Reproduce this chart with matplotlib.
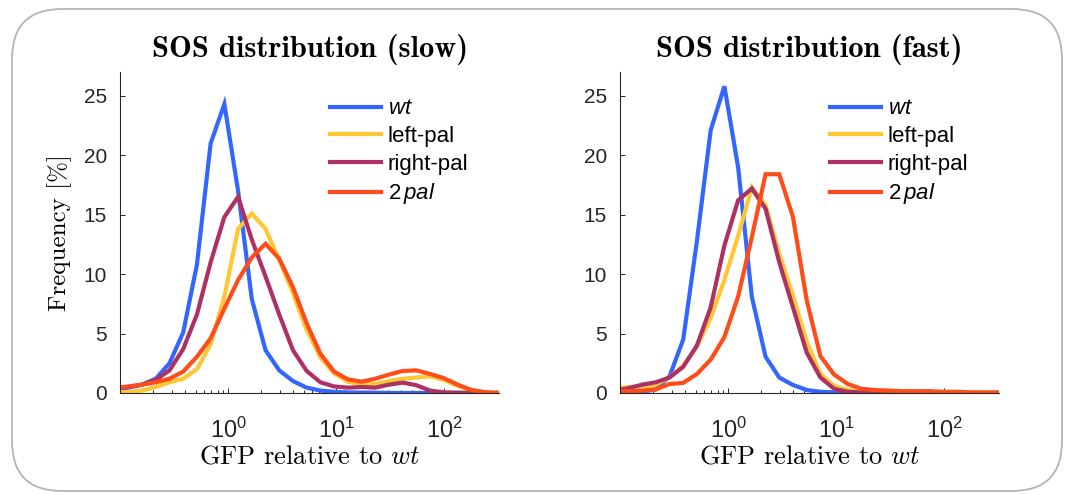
import numpy as np
import matplotlib
matplotlib.use("Agg")
import matplotlib.pyplot as plt
from matplotlib.patches import FancyBboxPatch
from matplotlib.ticker import FixedLocator, LogLocator, NullFormatter

plt.rcParams['font.family'] = 'Liberation Sans'
plt.rcParams['mathtext.fontset'] = 'custom'
plt.rcParams['mathtext.rm'] = 'Liberation Sans'
plt.rcParams['mathtext.it'] = 'Liberation Sans:italic'
plt.rcParams['mathtext.bf'] = 'Liberation Sans:bold'

# bin centres, log10 of GFP relative to wt
bin_exp = [-1.05, -0.923, -0.796, -0.669, -0.542, -0.415, -0.288, -0.161, -0.034,
           0.093, 0.22, 0.347, 0.474, 0.601, 0.728, 0.855, 0.982, 1.109, 1.236,
           1.363, 1.49, 1.617, 1.744, 1.871, 1.998, 2.125, 2.252, 2.379, 2.506]

# slow
wt_slow = [0.3, 0.45, 0.7, 1.2, 2.5, 5.1, 10.8, 21.0, 24.3, 17.0, 7.9, 3.6, 1.9, 1.0,
           0.45, 0.2, 0.1, 0.05, 0.03, 0.02, 0.01, 0, 0, 0, 0, 0, 0, 0, 0]
left_slow = [0.1, 0.05, 0.2, 0.5, 0.9, 1.2, 2.0, 4.1, 8.1, 13.8, 15.1, 13.8, 11.2, 8.4,
             5.3, 3.0, 1.65, 0.95, 0.75, 0.75, 1.0, 1.2, 1.3, 1.4, 1.1, 0.6, 0.25, 0.05, 0]
right_slow = [0.4, 0.5, 0.7, 1.1, 1.9, 3.7, 6.6, 11.0, 14.8, 16.5, 12.9, 9.8, 6.6, 3.6,
              1.85, 0.9, 0.55, 0.45, 0.5, 0.45, 0.7, 0.87, 0.65, 0.2, 0.05, 0.03, 0, 0, 0]
pal2_slow = [0.4, 0.55, 0.7, 0.9, 1.2, 1.8, 3.05, 4.6, 7.1, 9.5, 11.4, 12.55, 11.3, 8.9,
             5.85, 3.3, 1.8, 1.15, 0.95, 1.2, 1.55, 1.85, 1.9, 1.6, 1.25, 0.7, 0.25, 0.06, 0]

# fast
wt_fast = [0.05, 0.05, 0.1, 0.3, 1.4, 4.5, 12.8, 22.1, 25.8, 19.0, 8.1, 3.05, 1.3, 0.67,
           0.25, 0.1, 0.05, 0.02, 0, 0, 0, 0, 0, 0, 0, 0, 0, 0, 0]
left_fast = [0.4, 0.5, 0.55, 0.7, 1.3, 2.3, 3.9, 6.3, 9.5, 13.2, 17.3, 15.8, 11.7, 8.2,
             4.3, 1.6, 0.6, 0.25, 0.1, 0.05, 0.02, 0, 0, 0, 0, 0, 0, 0, 0]
right_fast = [0.2, 0.4, 0.7, 0.9, 1.3, 2.2, 4.0, 7.2, 12.4, 16.2, 17.2, 15.5, 11.0, 7.2,
              3.4, 1.3, 0.35, 0.1, 0.05, 0.02, 0, 0, 0, 0, 0, 0, 0, 0, 0]
pal2_fast = [0.1, 0.15, 0.2, 0.3, 0.75, 0.85, 1.6, 2.8, 4.7, 8.1, 13.1, 18.4, 18.4, 14.8,
             7.8, 3.1, 1.55, 0.75, 0.35, 0.25, 0.2, 0.15, 0.15, 0.15, 0.1, 0.1, 0.05, 0.05, 0.05]

labels = ['$wt$', 'left-pal', 'right-pal', '2$\\,pal$']
colors = ['#3366ff', '#ffc733', '#ad3164', '#ff4d1a']
titles = ['SOS distribution (slow)', 'SOS distribution (fast)']

gfp = 10 ** np.array(bin_exp)
dark = '#262626'

fig = plt.figure(figsize=(10.65, 4.95), dpi=100)
box = FancyBboxPatch((0.12, 0.04), 10.5, 4.82, boxstyle='round,pad=0,rounding_size=0.5',
                     transform=fig.dpi_scale_trans, fill=False, ec='#b4b4b4', lw=1.3)
fig.add_artist(box)

panels = [[wt_slow, left_slow, right_slow, pal2_slow],
          [wt_fast, left_fast, right_fast, pal2_fast]]
lefts = [0.1127, 0.5822]

for i in range(2):
    ax = fig.add_axes([lefts[i], 0.2061, 0.356, 0.6485])
    for ys, c, lab in zip(panels[i], colors, labels):
        ax.plot(gfp, ys, color=c, lw=3, label=lab, solid_joinstyle='miter')
    ax.set_xscale('log')
    ax.set_xlim(0.1, 10 ** 2.51)
    ax.set_ylim(0, 27)
    ax.xaxis.set_major_locator(FixedLocator([1, 10, 100]))
    ax.xaxis.set_minor_locator(LogLocator(base=10, subs=np.arange(2, 10)))
    ax.xaxis.set_minor_formatter(NullFormatter())
    ax.set_yticks([0, 5, 10, 15, 20, 25])
    for s in ['top', 'right']:
        ax.spines[s].set_visible(False)
    for s in ['left', 'bottom']:
        ax.spines[s].set_color(dark)
        ax.spines[s].set_linewidth(0.8)
    ax.tick_params(which='both', direction='in', colors=dark, labelsize=15, width=0.7)
    ax.tick_params(which='major', length=3.5)
    ax.tick_params(which='minor', length=2)
    ax.tick_params(axis='x', which='major', pad=18, labelsize=17)
    ax.tick_params(axis='y', which='major', pad=9.5)
    ax.set_title(titles[i], fontfamily='cmb10', fontsize=22, pad=10.5)
    ax.set_xlabel('GFP relative to $wt$', fontfamily='cmr10', math_fontfamily='cm',
                  fontsize=19)
    ax.xaxis.set_label_coords(0.5, -0.16)
    if i == 0:
        ax.set_ylabel('Frequency [%]', fontfamily='cmr10', fontsize=18, labelpad=8)
    ax.legend(loc='upper left', bbox_to_anchor=(0.554, 0.918), frameon=False, fontsize=16,
              handlelength=2.3, handletextpad=0.3, labelspacing=0.3, borderpad=0,
              borderaxespad=0)

fig.savefig('out.png', dpi=100)
